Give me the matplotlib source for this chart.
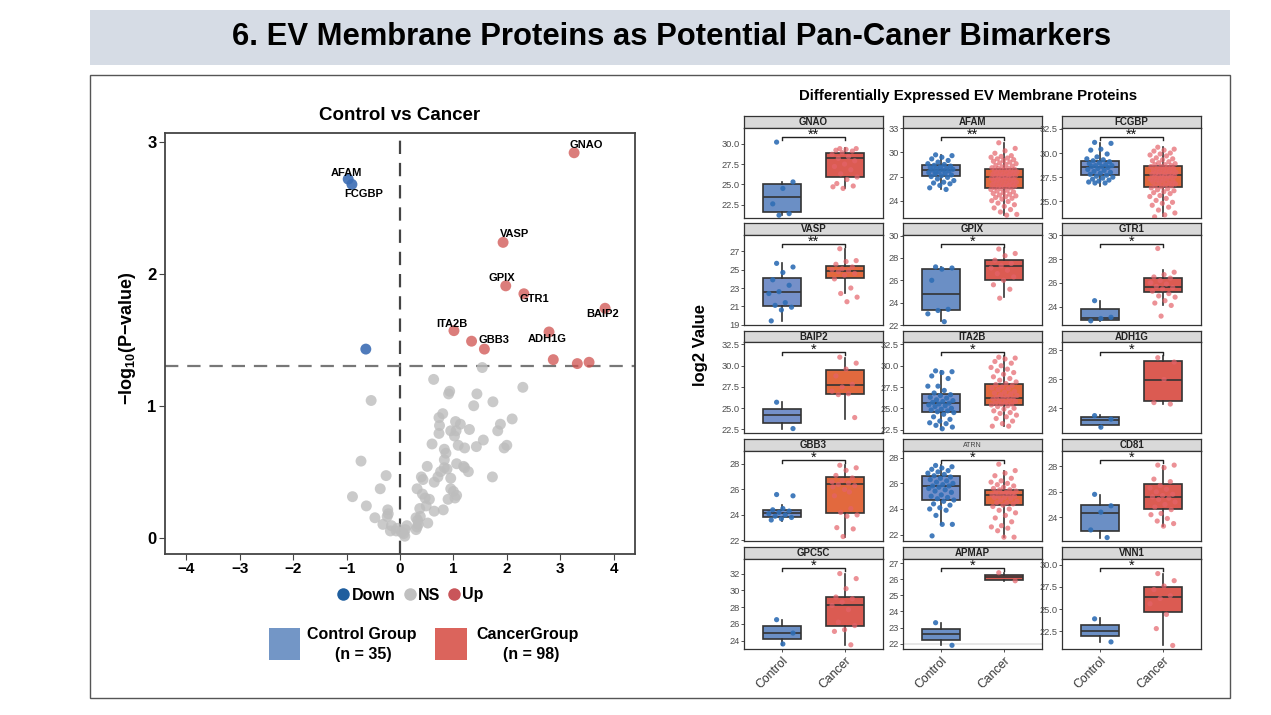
import numpy as np
import matplotlib
matplotlib.use("Agg")
import matplotlib.pyplot as plt
import matplotlib.transforms as mtrans
from matplotlib.patches import Rectangle
from matplotlib.lines import Line2D

plt.rcParams['font.family'] = ['Liberation Sans', 'DejaVu Sans']
plt.rcParams['mathtext.fontset'] = 'custom'
plt.rcParams['mathtext.rm'] = 'Liberation Sans:bold'
plt.rcParams['mathtext.default'] = 'rm'

# ---------------- volcano data ----------------
# significant proteins (log2FC, -log10 p)
sig_names = ['GNAO', 'AFAM', 'FCGBP', 'VASP', 'GPIX', 'GTR1', 'BAIP2', 'ITA2B',
             'CD81', 'GBB3', 'ADH1G', 'GPC5C', 'APMAP', 'VNN1', 'ATRN']
sig_fc = [3.26, -0.97, -0.90, 1.93, 1.98, 2.32, 3.84, 1.01,
          1.34, 1.58, 2.79, 2.87, 3.32, 3.54, -0.64]
sig_p = [2.92, 2.72, 2.68, 2.24, 1.91, 1.85, 1.74, 1.57,
         1.49, 1.43, 1.56, 1.35, 1.32, 1.33, 1.43]
labelled = ['GNAO', 'AFAM', 'FCGBP', 'VASP', 'GPIX', 'GTR1', 'BAIP2',
            'ITA2B', 'GBB3', 'ADH1G']

# not significant proteins
ns_fc = [1.54, 0.63, 2.30, 0.93, 0.91, 1.44, -0.54, 1.74, 1.38, 0.80,
         0.73, 2.10, 1.04, 1.13, 1.88, 0.74, 1.30, 0.95, 1.05, 1.83,
         0.73, 1.02, 1.56, 0.60, 2.00, 1.95, 1.09, 1.21, 1.43, 0.83,
         0.86, 0.83, -0.73, 1.06, 0.51, 0.83, 1.19, 0.88, 1.21, 0.76,
         1.28, -0.26, 0.40, 0.71, 0.95, 1.73, 0.43, 0.64, -0.37, 0.32,
         0.95, 1.00, 0.42, -0.89, 1.06, 0.47, 0.90, 1.03, 0.55, -0.63,
         0.49, 0.37, -0.23, -0.22, 0.64, 0.81, -0.24, -0.47, 0.30, 0.38,
         0.33, 0.52, -0.32, -0.16, 0.34, 0.13, 0.32, -0.18, -0.07, 0.10,
         0.30, 0.07, 0.09, -0.05, 0.03]
ns_p = [1.29, 1.20, 1.14, 1.11, 1.09, 1.09, 1.04, 1.03, 1.00, 0.94,
        0.91, 0.90, 0.88, 0.86, 0.86, 0.85, 0.82, 0.81, 0.81, 0.81,
        0.79, 0.77, 0.74, 0.71, 0.70, 0.68, 0.70, 0.68, 0.69, 0.67,
        0.64, 0.59, 0.58, 0.56, 0.54, 0.53, 0.54, 0.52, 0.53, 0.50,
        0.50, 0.47, 0.46, 0.46, 0.45, 0.46, 0.44, 0.42, 0.37, 0.37,
        0.37, 0.35, 0.33, 0.31, 0.32, 0.30, 0.29, 0.30, 0.29, 0.24,
        0.24, 0.22, 0.21, 0.18, 0.20, 0.21, 0.16, 0.15, 0.15, 0.16,
        0.13, 0.11, 0.10, 0.09, 0.10, 0.09, 0.08, 0.05, 0.05, 0.06,
        0.06, 0.03, 0.01, 0.07, 0.04]
p_cut = 1.3
n_control, n_cancer = 35, 98

# ---------------- box panel data ----------------
proteins = ['GNAO', 'AFAM', 'FCGBP', 'VASP', 'GPIX', 'GTR1', 'BAIP2', 'ITA2B',
            'ADH1G', 'GBB3', 'ATRN', 'CD81', 'GPC5C', 'APMAP', 'VNN1']
stars = ['**', '**', '**', '**', '*', '*', '*', '*', '*', '*', '*', '*', '*', '*', '*']
groups = ['Control', 'Cancer']

# box stats: (whisker low, q1, median, q3, whisker high)
ctrl_box = [(21.2, 21.6, 23.5, 25.1, 25.3), (25.4, 27.02, 27.85, 28.43, 29.7),
            (26.64, 27.74, 28.59, 29.17, 31.03), (19.36, 21.04, 22.57, 24.1, 25.7),
            (22.4, 23.3, 24.74, 27.03, 27.2), (22.8, 22.9, 23.05, 23.78, 24.47),
            (22.6, 23.3, 24.15, 24.92, 25.7), (22.6, 24.54, 25.6, 26.7, 29.4),
            (22.7, 22.86, 23.2, 23.41, 23.57), (23.53, 23.87, 24.18, 24.39, 24.8),
            (22.8, 24.7, 25.82, 26.6, 27.4), (22.4, 22.9, 24.36, 25.0, 25.76),
            (23.45, 24.2, 24.94, 25.69, 26.43), (21.92, 22.24, 22.6, 22.94, 23.26),
            (21.31, 21.94, 22.5, 23.23, 23.97)]
canc_box = [(24.5, 25.9, 28.3, 28.9, 29.5), (22.2, 25.6, 26.95, 27.93, 31.2),
            (23.45, 26.5, 27.7, 28.62, 30.62), (22.4, 24.07, 24.9, 25.36, 27.3),
            (24.5, 26.0, 27.26, 27.8, 28.86), (24.1, 25.2, 25.67, 26.44, 27.1),
            (23.75, 26.67, 27.67, 29.46, 30.93), (22.9, 25.4, 26.2, 27.85, 31.1),
            (24.3, 24.5, 25.98, 27.25, 27.6), (22.3, 24.18, 26.42, 26.94, 27.9),
            (21.8, 24.3, 25.1, 25.5, 26.95), (23.3, 24.65, 25.6, 26.62, 28.05),
            (23.45, 25.76, 28.24, 29.18, 32.0), (25.9, 25.96, 26.12, 26.26, 26.4),
            (20.9, 24.67, 26.32, 27.5, 29.0)]

ctrl_pts = [
    [30.2, 25.3, 24.5, 22.6, 21.4, 21.2],
    [29.7, 29.6, 29.4, 29.2, 29.0, 28.8, 28.6, 28.5, 28.4, 28.3, 28.2, 28.1, 28.0, 28.0,
     27.9, 27.8, 27.8, 27.7, 27.6, 27.5, 27.4, 27.3, 27.2, 27.1, 27.0, 26.9, 26.7, 26.5,
     26.3, 26.2, 26.1, 25.9, 25.6, 25.4, 27.5],
    [31.1, 31.0, 30.4, 30.3, 29.9, 29.6, 29.4, 29.3, 29.2, 29.1, 29.0, 28.9, 28.8, 28.7,
     28.7, 28.6, 28.6, 28.5, 28.4, 28.3, 28.2, 28.1, 28.0, 27.9, 27.8, 27.7, 27.6, 27.5,
     27.4, 27.3, 27.2, 27.1, 27.0, 26.9, 26.9],
    [25.7, 25.3, 24.7, 23.9, 23.3, 22.6, 22.4, 21.4, 21.1, 20.9, 20.6, 19.4],
    [27.2, 27.1, 27.0, 26.0, 23.4, 23.3, 23.0, 22.3],
    [24.5, 23.1, 23.0, 22.8],
    [25.7, 22.6],
    [29.4, 29.3, 29.2, 28.8, 28.5, 27.6, 27.6, 27.1, 26.8, 26.6, 26.5, 26.3, 26.2, 26.0,
     25.9, 25.8, 25.7, 25.6, 25.5, 25.4, 25.3, 25.2, 25.0, 24.9, 24.8, 24.7, 24.6, 24.5,
     24.3, 24.0, 23.7, 23.5, 23.3, 23.2, 23.0, 22.8, 22.6],
    [23.5, 23.25, 22.7],
    [25.6, 25.5, 24.5, 24.4, 24.3, 24.2, 24.1, 24.0, 23.9, 23.8, 23.7, 23.6],
    [27.4, 27.3, 27.2, 27.1, 27.0, 26.9, 26.8, 26.7, 26.6, 26.5, 26.4, 26.3, 26.2, 26.1,
     26.0, 25.9, 25.8, 25.8, 25.7, 25.6, 25.5, 25.4, 25.3, 25.1, 25.0, 24.9, 24.8, 24.7,
     24.6, 24.4, 24.3, 24.1, 24.0, 23.9, 23.5, 22.8, 22.8, 21.9],
    [25.8, 24.9, 24.4, 23.0, 22.4],
    [26.5, 24.9, 23.6],
    [23.3, 21.9],
    [23.9, 21.3],
]
canc_pts = [
    [29.4, 29.4, 29.3, 29.2, 29.1, 28.9, 28.7, 28.4, 28.2, 27.9, 27.5, 27.2, 26.8, 26.3,
     25.9, 25.6, 25.1, 24.8, 24.5, 24.7],
    [31.2, 30.5, 30.2, 29.9, 29.6, 29.5, 29.4, 29.3, 29.2, 29.1, 29.0, 28.9, 28.8, 28.7,
     28.6, 28.5, 28.4, 28.3, 28.2, 28.1, 28.0, 28.0, 27.9, 27.9, 27.8, 27.7, 27.6, 27.6,
     27.5, 27.5, 27.4, 27.3, 27.3, 27.2, 27.1, 27.1, 27.0, 27.0, 26.9, 26.9, 26.8, 26.8,
     26.7, 26.6, 26.6, 26.5, 26.4, 26.4, 26.3, 26.2, 26.2, 26.1, 26.0, 26.0, 25.9, 25.8,
     25.8, 25.7, 25.6, 25.6, 25.5, 25.4, 25.3, 25.2, 25.1, 25.0, 24.9, 24.8, 24.7, 24.6,
     24.5, 24.4, 24.3, 24.2, 24.0, 23.9, 23.7, 23.5, 23.3, 23.1, 22.9, 22.6, 22.3, 22.2],
    [30.6, 30.4, 30.3, 30.2, 30.0, 29.9, 29.8, 29.7, 29.5, 29.4, 29.3, 29.2, 29.1, 29.0,
     28.9, 28.8, 28.8, 28.7, 28.6, 28.6, 28.5, 28.4, 28.4, 28.3, 28.2, 28.2, 28.1, 28.0,
     28.0, 27.9, 27.9, 27.8, 27.8, 27.7, 27.7, 27.6, 27.6, 27.5, 27.5, 27.4, 27.3, 27.3,
     27.2, 27.1, 27.1, 27.0, 26.9, 26.9, 26.8, 26.7, 26.6, 26.6, 26.5, 26.4, 26.3, 26.2,
     26.1, 26.0, 25.9, 25.8, 25.6, 25.5, 25.3, 25.1, 24.9, 24.8, 24.6, 24.4, 24.1, 23.8,
     23.6, 23.4],
    [27.3, 26.0, 25.9, 25.6, 25.3, 25.1, 25.0, 24.9, 24.8, 24.6, 24.4, 24.0, 23.0, 22.4,
     22.0, 21.5],
    [28.8, 28.4, 28.2, 27.8, 27.5, 27.3, 27.1, 26.9, 26.6, 26.3, 26.0, 25.6, 25.2, 24.4],
    [28.9, 26.9, 26.7, 26.5, 26.4, 26.2, 26.0, 25.9, 25.7, 25.6, 25.5, 25.3, 25.1, 24.9,
     24.8, 24.5, 24.3, 24.1, 23.2, 26.0],
    [31.0, 30.3, 29.6, 28.8, 27.8, 27.5, 27.0, 26.7, 26.6, 23.9],
    [31.0, 30.9, 30.8, 30.5, 30.3, 30.0, 29.8, 29.6, 29.4, 29.2, 29.0, 28.7, 28.5, 28.3,
     28.1, 27.9, 27.8, 27.7, 27.5, 27.4, 27.3, 27.2, 27.0, 26.9, 26.8, 26.7, 26.6, 26.5,
     26.4, 26.3, 26.2, 26.2, 26.1, 26.0, 25.9, 25.8, 25.7, 25.6, 25.5, 25.5, 25.4, 25.3,
     25.2, 25.0, 24.9, 24.7, 24.5, 24.4, 24.2, 24.0, 23.8, 23.5, 23.2, 22.9, 22.9],
    [27.5, 27.2, 26.0, 24.4, 24.3],
    [27.9, 27.7, 27.5, 27.1, 26.9, 26.7, 26.6, 26.5, 26.4, 26.3, 26.0, 25.5, 24.5, 24.2,
     24.0, 23.9, 23.0, 22.9, 22.3, 26.2, 25.8],
    [27.5, 27.0, 26.8, 26.6, 26.4, 26.2, 26.1, 26.0, 25.9, 25.8, 25.7, 25.6, 25.5, 25.5,
     25.4, 25.3, 25.3, 25.2, 25.2, 25.1, 25.1, 25.0, 25.0, 24.9, 24.9, 24.8, 24.7, 24.6,
     24.5, 24.5, 24.4, 24.3, 24.2, 24.0, 23.9, 23.7, 23.5, 23.3, 23.0, 22.7, 22.6, 22.5,
     22.3, 21.8, 21.8],
    [28.1, 28.1, 27.9, 27.0, 26.8, 26.5, 26.3, 26.2, 26.0, 25.8, 25.7, 25.6, 25.5, 25.4,
     25.2, 25.0, 24.8, 24.6, 24.3, 24.2, 23.9, 23.7, 23.5, 23.3],
    [32.0, 31.4, 30.2, 29.2, 29.0, 28.6, 28.2, 27.7, 26.2, 25.8, 25.3, 25.1, 23.5],
    [26.4, 25.9],
    [29.0, 28.2, 27.6, 27.2, 26.5, 26.2, 25.6, 24.4, 22.8, 20.9],
]

# axis ranges / ticks per panel
panel_ylim = [(20.86, 32.0), (21.85, 33.1), (23.28, 32.64), (18.95, 28.86), (22.0, 30.1),
              (22.45, 30.08), (22.08, 32.73), (22.1, 32.73), (22.3, 28.55), (21.95, 29.06),
              (21.5, 28.57), (22.13, 29.25), (23.0, 33.8), (21.67, 27.28), (20.5, 30.7)]
panel_ticks = [[22.5, 25, 27.5, 30], [24, 27, 30, 33], [25, 27.5, 30, 32.5],
               [19, 21, 23, 25, 27], [22, 24, 26, 28, 30], [24, 26, 28, 30],
               [22.5, 25, 27.5, 30, 32.5], [22.5, 25, 27.5, 30, 32.5], [24, 26, 28],
               [22, 24, 26, 28], [22, 24, 26, 28], [24, 26, 28],
               [24, 26, 28, 30, 32], [22, 23, 24, 25, 26, 27], [22.5, 25, 27.5, 30]]

# box fill colours per panel (orange-ish boxes in some panels of the original)
orange_panels = ['AFAM', 'FCGBP', 'VASP', 'BAIP2', 'ITA2B', 'GBB3', 'ATRN']

# ---------------- figure ----------------
W, H = 1271, 715


def rect(x0, y0, x1, y1):
    return [x0 / W, 1 - y1 / H, (x1 - x0) / W, (y1 - y0) / H]


fig = plt.figure(figsize=(W / 100, H / 100), dpi=100)

# title bar and frame
fig.add_artist(Rectangle((90 / W, 1 - 65 / H), 1140 / W, 55 / H, transform=fig.transFigure,
                         facecolor='#D6DCE5', edgecolor='none'))
fig.text(672 / W, 1 - 37 / H, '6. EV Membrane Proteins as Potential Pan-Caner Bimarkers',
         ha='center', va='center', fontsize=22.3, fontweight='bold')
fig.add_artist(Rectangle((90 / W, 1 - 698 / H), 1140 / W, 623 / H, transform=fig.transFigure,
                         fill=False, edgecolor='#555555', lw=1))

# ---- volcano ----
ax = fig.add_axes(rect(165, 133, 635, 554))
sig_fc_a = np.array(sig_fc)
sig_p_a = np.array(sig_p)
up = (sig_p_a > p_cut) & (sig_fc_a > 0)
down = (sig_p_a > p_cut) & (sig_fc_a < 0)
ax.scatter(ns_fc, ns_p, s=62, color='#BDBDBD', alpha=0.8, edgecolors='none', zorder=2)
ax.scatter(sig_fc_a[down], sig_p_a[down], s=62, color='#3C6DB4', alpha=0.9,
           edgecolors='none', zorder=3)
ax.scatter(sig_fc_a[up], sig_p_a[up], s=62, color='#D0524F', alpha=0.75,
           edgecolors='none', zorder=3)
ax.axvline(0, color='#444444', lw=1.6, dashes=(6, 4), zorder=1)
ax.axhline(p_cut, color='#777777', lw=1.6, dashes=(6, 4), zorder=1)

# label placement (offsets from point, in data units)
lbl_off = {'GNAO': (0.22, 0.06), 'AFAM': (-0.04, 0.05), 'FCGBP': (0.22, -0.07),
           'VASP': (0.21, 0.06), 'GPIX': (-0.07, 0.06), 'GTR1': (0.2, -0.04),
           'BAIP2': (-0.05, -0.04), 'ITA2B': (-0.03, 0.05), 'GBB3': (0.18, 0.07),
           'ADH1G': (-0.04, -0.05)}
for name, fx, py in zip(sig_names, sig_fc, sig_p):
    if name in labelled:
        dx, dy = lbl_off[name]
        ax.text(fx + dx, py + dy, name, ha='center', va='center', fontsize=8,
                fontweight='bold', zorder=4)

ax.set_xlim(-4.4, 4.4)
ax.set_ylim(-0.125, 3.07)
ax.set_xticks(range(-4, 5))
ax.set_xticklabels(['\u2212%d' % -v if v < 0 else str(v) for v in range(-4, 5)])
ax.set_yticks([0, 1, 2, 3])
for s in ax.spines.values():
    s.set_color('#444444')
    s.set_linewidth(1.3)
ax.tick_params(axis='x', length=4, color='#444444', labelsize=11, pad=2)
ax.tick_params(axis='y', length=4, color='#444444', labelsize=12, pad=2)
for t in ax.get_xticklabels() + ax.get_yticklabels():
    t.set_fontweight('bold')
fig.text(400 / W, 1 - 116 / H, 'Control vs Cancer', ha='center', va='center',
         fontsize=13.5, fontweight='bold')
fig.text(128 / W, 1 - 338 / H, '\u2212log$_{10}$(P\u2212value)', rotation=90,
         ha='center', va='center', fontsize=13, fontweight='bold')

handles = [Line2D([], [], marker='o', ls='none', markersize=9, color=c, markeredgewidth=0)
           for c in ['#1F5E9E', '#C0C0C0', '#C9555A']]
ax.legend(handles, ['Down', 'NS', 'Up'], loc='center', ncol=3, frameon=False,
          bbox_to_anchor=(410 / W, 1 - 595 / H), bbox_transform=fig.transFigure,
          handletextpad=0.05, columnspacing=0.45, handlelength=0.9,
          prop={'weight': 'bold', 'size': 11.5})

# group legend
fig.add_artist(Rectangle((269 / W, 1 - 660 / H), 31 / W, 32 / H, transform=fig.transFigure,
                         facecolor='#7396C6', edgecolor='none'))
fig.add_artist(Rectangle((435 / W, 1 - 660 / H), 32 / W, 32 / H, transform=fig.transFigure,
                         facecolor='#DB645C', edgecolor='none'))
fig.text(362 / W, 1 - 634 / H, 'Control Group', ha='center', va='center', fontsize=11.5,
         fontweight='bold')
fig.text(363 / W, 1 - 654 / H, '(n = %d)' % n_control, ha='center', va='center',
         fontsize=11.5, fontweight='bold')
fig.text(528 / W, 1 - 634 / H, 'CancerGroup', ha='center', va='center', fontsize=11.5,
         fontweight='bold')
fig.text(531 / W, 1 - 654 / H, '(n = %d)' % n_cancer, ha='center', va='center',
         fontsize=11.5, fontweight='bold')

# ---- box panels ----
fig.text(968 / W, 1 - 96 / H, 'Differentially Expressed EV Membrane Proteins',
         ha='center', va='center', fontsize=10.8, fontweight='bold')
fig.text(701 / W, 1 - 345 / H, 'log2 Value', rotation=90, ha='center', va='center',
         fontsize=12, fontweight='bold')

col_x = [744, 903, 1062]
row_y = [116, 223, 331, 439, 547]
pw, sh, ph = 139, 11.5, 102


def jitter(n):
    return ((np.arange(n) * 0.6180339 + 0.3) % 1 - 0.5) * 0.42


for i, prot in enumerate(proteins):
    r, c = divmod(i, 3)
    x0, y0 = col_x[c], row_y[r]
    if prot in orange_panels:
        ctrl_fill, canc_fill = '#7590C9', '#E2693E'
    else:
        ctrl_fill, canc_fill = '#6B8FC5', '#DB5B52'
    sax = fig.add_axes(rect(x0, y0, x0 + pw, y0 + sh))
    sax.set_facecolor('#D9D9D9')
    sax.set_xticks([])
    sax.set_yticks([])
    for s in sax.spines.values():
        s.set_color('#333333')
        s.set_linewidth(0.9)
    if prot == 'ATRN':
        sax.text(0.5, 0.45, prot, ha='center', va='center', fontsize=5, color='#444444')
    else:
        sax.text(0.5, 0.45, prot, ha='center', va='center', fontsize=7,
                 fontweight='bold', color='#222222')

    pax = fig.add_axes(rect(x0, y0 + sh, x0 + pw, y0 + ph))
    for k, (bs, fill) in enumerate([(ctrl_box[i], ctrl_fill), (canc_box[i], canc_fill)]):
        st = dict(zip(['whislo', 'q1', 'med', 'q3', 'whishi'], bs))
        st['fliers'] = []
        pax.bxp([st], positions=[k + 1], widths=0.6, patch_artist=True, showfliers=False,
                showcaps=False,
                boxprops=dict(facecolor=fill, edgecolor='#333333', linewidth=1.2),
                medianprops=dict(color='#333333', linewidth=1.2),
                whiskerprops=dict(color='#333333', linewidth=1.2))
    cp = ctrl_pts[i]
    kp = canc_pts[i]
    pax.scatter(1 + jitter(len(cp)), cp, s=14, color='#2F6EB5', alpha=0.9,
                edgecolors='none', zorder=4)
    pax.scatter(2 + jitter(len(kp)), kp, s=14, color='#E4636A', alpha=0.7,
                edgecolors='none', zorder=4)
    if prot == 'APMAP':
        pax.axhline(21.97, color='#E3E3E3', lw=1.2, zorder=0)

    tr = mtrans.blended_transform_factory(pax.transData, pax.transAxes)
    yb = 0.895
    pax.plot([1, 1, 2, 2], [yb - 0.035, yb, yb, yb - 0.035], color='#222222', lw=1.0,
             transform=tr, clip_on=False)
    pax.text(1.5, yb + 0.022, stars[i], ha='center', va='center', fontsize=10.5,
             transform=tr, color='#111111')

    pax.set_xlim(0.4, 2.6)
    pax.set_ylim(*panel_ylim[i])
    ticks = panel_ticks[i]
    pax.set_yticks(ticks)
    if any(t != int(t) for t in ticks):
        pax.set_yticklabels(['%.1f' % t for t in ticks])
    else:
        pax.set_yticklabels(['%d' % t for t in ticks])
    pax.tick_params(axis='y', length=2, width=0.6, color='#333333', labelsize=6.7,
                    labelcolor='#4D4D4D', pad=1)
    for s in pax.spines.values():
        s.set_color('#333333')
        s.set_linewidth(0.9)
    if r == 4:
        pax.set_xticks([1, 2])
        pax.set_xticklabels(groups, rotation=45, ha='right', va='top',
                            rotation_mode='anchor', fontsize=8.8, color='#333333')
        pax.tick_params(axis='x', length=2, width=0.6, color='#333333', pad=2)
    else:
        pax.set_xticks([])

fig.savefig('out.png', dpi=100)
